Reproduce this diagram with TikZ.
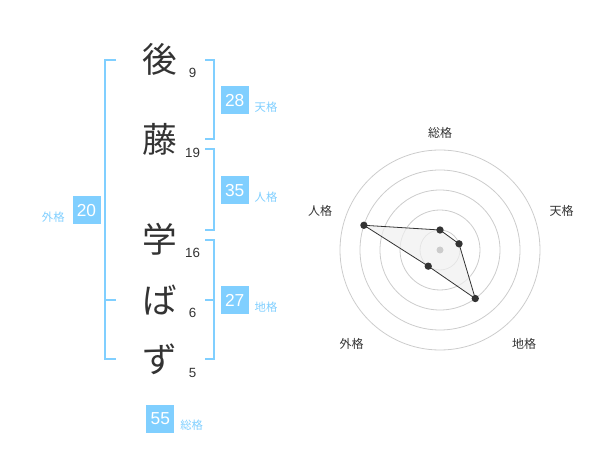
\documentclass[tikz,border=0pt]{standalone}
\usepackage{fontspec}
\setmainfont{Liberation Sans}
\newfontfamily\jp{Noto Sans CJK JP}
\definecolor{sky}{HTML}{80CFFF}
\definecolor{ink}{HTML}{333333}
\definecolor{ring}{HTML}{CCCCCC}
\begin{document}
\begin{tikzpicture}[x=0.75pt,y=-0.75pt,
  kanji/.style={inner sep=0pt,text height=0.88em,text depth=0.12em,text=ink,font=\jp\fontsize{26}{26}\selectfont},
  strokes/.style={inner sep=0pt,text height=0.72em,text depth=0pt,text=ink,font=\fontsize{10}{10}\selectfont},
  scorebox/.style={fill=sky,text=white,minimum size=21pt,inner sep=0pt,font=\fontsize{13}{13}\selectfont},
  scorelabel/.style={inner sep=0pt,text height=0.88em,text depth=0.12em,text=sky,font=\jp\fontsize{8.5}{8.5}\selectfont},
  bracket/.style={draw=sky,line width=1.5pt},
  axislabel/.style={inner sep=0pt,text height=0.88em,text depth=0.12em,text=ink,font=\jp\fontsize{9}{9}\selectfont},
  dot/.style={circle,fill=ink,inner sep=0pt,minimum size=5.5pt}]
\useasboundingbox (0,0) rectangle (600,470);
% characters
\node[kanji] (c1) at (160,67.5) {後};
\node[kanji] (c2) at (160,147.5) {藤};
\node[kanji] (c3) at (160,247.5) {学};
\node[kanji] (c4) at (160,308) {ば};
\node[kanji] (c5) at (160,367.5) {ず};
\node[strokes] (n1) at (192.5,72.7) {9};
\node[strokes] (n2) at (192.5,152.7) {19};
\node[strokes] (n3) at (192.5,252.7) {16};
\node[strokes] (n4) at (192.5,313) {6};
\node[strokes] (n5) at (192.5,372.7) {5};
% brackets
\draw[bracket] (116,60) -- (105,60) -- (105,359.3) -- (116,359.3);
\draw[bracket] (105,300) -- (116,300);
\draw[bracket] (205,60) -- (214.3,60) -- (214.3,139.3) -- (205,139.3);
\draw[bracket] (205,149.3) -- (214.3,149.3) -- (214.3,230) -- (205,230);
\draw[bracket] (205,240) -- (214.3,240) -- (214.3,359.3) -- (205,359.3);
\draw[bracket] (205,300) -- (214.3,300);
% score boxes
\node[scorebox] (ten) at (234.7,100.3) {28};
\node[scorelabel] (tenl) at (266,106) {天格};
\node[scorebox] (jin) at (234.7,190.3) {35};
\node[scorelabel] (jinl) at (266,196) {人格};
\node[scorebox] (gai) at (86.5,210.3) {20};
\node[scorelabel] (gail) at (53.3,216) {外格};
\node[scorebox] (chi) at (234.7,300.3) {27};
\node[scorelabel] (chil) at (266,306) {地格};
\node[scorebox] (sou) at (160.3,419) {55};
\node[scorelabel] (soul) at (191.7,424.7) {総格};
% radar
\begin{scope}[shift={(440,250)},y=0.75pt]
  \foreach \r in {20,40,60,80,100} \draw[ring,line width=0.6pt] (0,0) circle (\r);
  \coordinate (ps) at (90:20);
  \coordinate (pt) at (18:20);
  \coordinate (pc) at (-54:60);
  \coordinate (pg) at (-126:20);
  \coordinate (pj) at (162:80);
  \filldraw[fill=black!6,fill opacity=0.7,draw=ink,line width=0.6pt] (ps) -- (pt) -- (pc) -- (pg) -- (pj) -- cycle;
  \fill[ring] (0,0) circle (3.5);
  \foreach \p in {ps,pt,pc,pg,pj} \node[dot] at (\p) {};
\end{scope}
\node[axislabel] (as) at (440,132) {総格};
\node[axislabel] (at) at (561.7,210.3) {天格};
\node[axislabel] (aj) at (320,210.3) {人格};
\node[axislabel] (ac) at (524,343.7) {地格};
\node[axislabel] (ag) at (351.7,343.7) {外格};
\end{tikzpicture}
\end{document}
